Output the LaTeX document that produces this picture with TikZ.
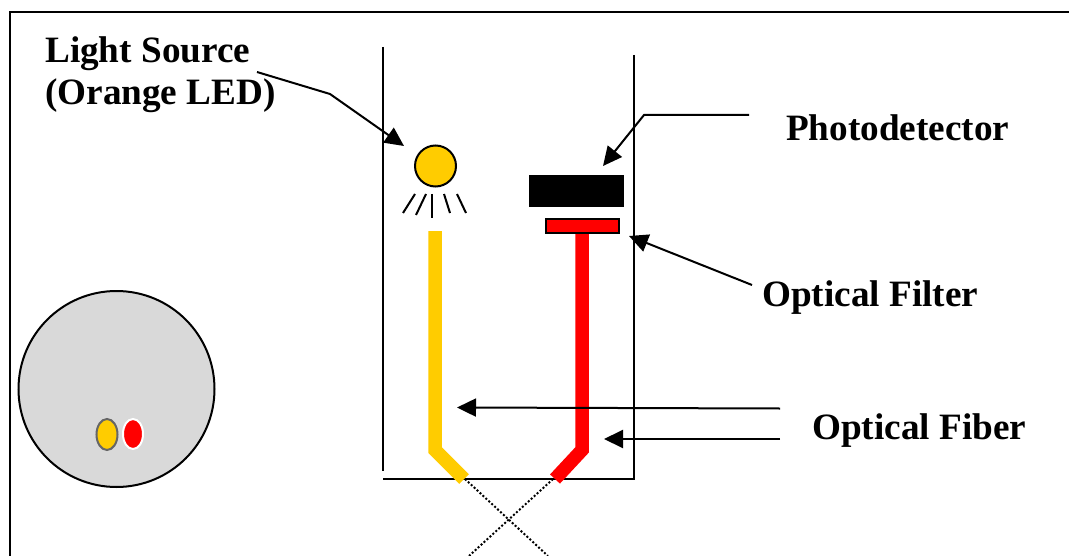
\documentclass[tikz,border=0pt]{standalone}
\usepackage{fontspec}
\setmainfont{Liberation Serif}
\usetikzlibrary{arrows.meta,shapes.geometric}
\definecolor{ledor}{HTML}{FFCC00}
\definecolor{disc}{HTML}{D9D9D9}
\tikzset{
 x=1pt,y=-1pt,
 ln/.style={line width=2pt,black},
 arr/.style={line width=2pt,black,-{Triangle[length=19pt,width=18pt]}},
 lab/.style={font=\bfseries\fontsize{37.2}{40}\selectfont,inner sep=0pt,anchor=base west,align=left},
 fib/.style={line width=13.5pt,line join=miter},
 ray/.style={line width=2pt,black},
 dots/.style={line width=2pt,dash pattern=on 2pt off 2pt,black}
}
\begin{document}
\begin{tikzpicture}
\useasboundingbox (0,0) rectangle (1070,556);
\fill[white] (0,0) rectangle (1070,556);
\coordinate (fTL) at (10,556); \coordinate (fT) at (10,12.5); \coordinate (fR) at (1069,12.5);
\draw[ln] (fTL) -- (fT) -- (fR);
% housing
\coordinate (w1a) at (383,47); \coordinate (w1b) at (383,471);
\coordinate (w2a) at (634,55); \coordinate (w2b) at (634,479); \coordinate (w3) at (383,479);
\draw[ln] (w1a) -- (w1b);
\draw[ln] (w2a) -- (w2b) -- (w3);
% dotted
\coordinate (d1a) at (465,479); \coordinate (d1b) at (548,556);
\coordinate (d2a) at (553,479); \coordinate (d2b) at (469,556);
\draw[dots] (d1a) -- (d1b);
\draw[dots] (d2a) -- (d2b);
% fibres
\coordinate (y1) at (435,231); \coordinate (y2) at (435,450); \coordinate (y3) at (464,479);
\coordinate (r1) at (582,233); \coordinate (r2) at (582,450); \coordinate (r3) at (555,479);
\draw[fib,ledor] (y1) -- (y2) -- (y3);
\draw[fib,red] (r1) -- (r2) -- (r3);
% led
\node[circle,draw=black,line width=2pt,fill=ledor,minimum size=41pt,inner sep=0pt] (led) at (435.5,166) {};
\coordinate (a1) at (415,194); \coordinate (a2) at (403,213);
\coordinate (b1) at (426,194); \coordinate (b2) at (416,215);
\coordinate (c1) at (432,194); \coordinate (c2) at (432,218);
\coordinate (e1) at (444,194); \coordinate (e2) at (450,213);
\coordinate (g1) at (457,194); \coordinate (g2) at (466,213);
\draw[ray] (a1)--(a2); \draw[ray] (b1)--(b2); \draw[ray] (c1)--(c2); \draw[ray] (e1)--(e2); \draw[ray] (g1)--(g2);
% detector and filter
\node[fill=black,draw=black,minimum width=94pt,minimum height=31pt,inner sep=0pt] (pd) at (576.5,191) {};
\node[fill=red,draw=black,line width=2pt,minimum width=73pt,minimum height=14pt,inner sep=0pt] (ofl) at (582,226) {};
% disc
\node[circle,draw=black,line width=2pt,fill=disc,minimum size=196pt,inner sep=0pt] (dsc) at (116.5,389) {};
\node[ellipse,draw=black!60,line width=2pt,fill=ledor,minimum width=21pt,minimum height=31pt,inner sep=0pt] (dy) at (107,434.5) {};
\node[ellipse,draw=white,line width=2pt,fill=red,minimum width=20pt,minimum height=30pt,inner sep=0pt] (dr) at (133,434) {};
% labels
\node[lab] (t1) at (45,62.5) {Light Source};
\node[lab] (t2) at (45,105) {(Orange LED)};
\node[lab] (t3) at (786,141) {Photodetector};
\node[lab] (t4) at (762,306) {Optical Filter};
\node[lab] (t5) at (812,439) {Optical Fiber};
% arrows
\coordinate (p1) at (257,72); \coordinate (p2) at (330,94); \coordinate (p3) at (404,146);
\draw[arr] (p1) -- (p2) -- (p3);
\coordinate (q1) at (749,115); \coordinate (q2) at (644,115); \coordinate (q3) at (603,166);
\draw[arr] (q1) -- (q2) -- (q3);
\coordinate (s1) at (752,285); \coordinate (s3) at (629,236);
\draw[arr] (s1) -- (s3);
\coordinate (u1) at (780,408.5); \coordinate (u3) at (457,407.5);
\draw[arr] (u1) -- (u3);
\coordinate (v1) at (780,439); \coordinate (v3) at (604,439);
\draw[arr] (v1) -- (v3);
\end{tikzpicture}
\end{document}
